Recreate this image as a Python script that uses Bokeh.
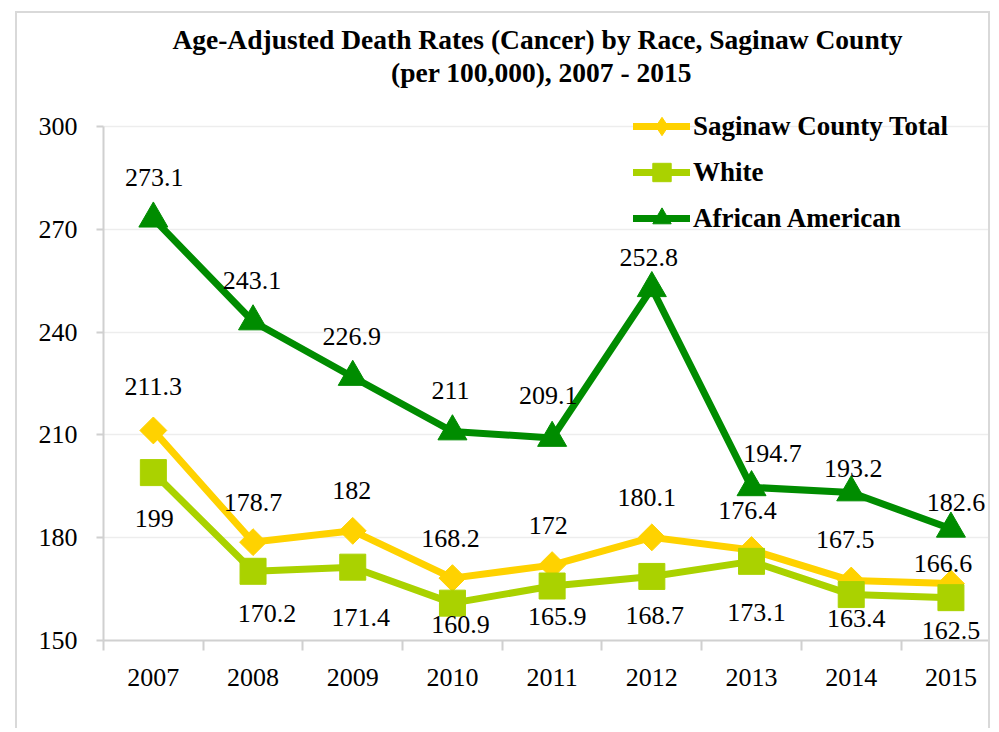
from bokeh.plotting import figure
from bokeh.models import (Range1d, FixedTicker, Legend, LegendItem, Label,
                          ColumnDataSource)
from bokeh.core.properties import value
from bokeh.embed import file_html
from bokeh.resources import INLINE
import math

# ---------------- data ----------------
years = ["2007", "2008", "2009", "2010", "2011", "2012", "2013", "2014", "2015"]
total = [211.3, 178.7, 182.0, 168.2, 172.0, 180.1, 176.4, 167.5, 166.6]
white = [199.0, 170.2, 171.4, 160.9, 165.9, 168.7, 173.1, 163.4, 162.5]
african_american = [273.1, 243.1, 226.9, 211.0, 209.1, 252.8, 194.7, 193.2, 182.6]
total_labels = ["211.3", "178.7", "182", "168.2", "172", "180.1", "176.4", "167.5", "166.6"]
white_labels = ["199", "170.2", "171.4", "160.9", "165.9", "168.7", "173.1", "163.4", "162.5"]
aa_labels = ["273.1", "243.1", "226.9", "211", "209.1", "252.8", "194.7", "193.2", "182.6"]
y_ticks = [150, 180, 210, 240, 270, 300]
title_lines = ["Age-Adjusted Death Rates (Cancer) by Race, Saginaw County",
               "(per 100,000), 2007 - 2015"]

# data-label offsets in pixels (dx right, dy down)
total_dx = [0, 0, -1, -2, -4, -5, -4, -6, -8]
total_dy = [-44, -40, -40, -40, -40, -40, -40, -41, -20]
white_dx = [1, 14, 8, 8, 5, 3, 5, 5, 0]
white_dy = [46, 42, 50, 21, 30, 39, 51, 24, 33]
aa_dx = [1, -1, -1, -2, -4, -3, 21, 2, 5]
aa_dy = [-41, -41, -40, -41, -42, -31, -34, -24, -26]

C_TOTAL = "#FFD200"
C_WHITE = "#AAD200"
C_AA = "#008C00"
SERIF = "Liberation Serif"
GRAY = "#D0D0D0"

xs = list(range(len(years)))

p = figure(width=975, height=717, output_backend="svg", toolbar_location=None,
           title=None,
           x_range=Range1d(-0.5, 8.417), y_range=Range1d(150, 332.98),
           min_border_left=86, min_border_right=0, min_border_top=0,
           min_border_bottom=90)
p.styles = {"margin-left": "15px", "margin-top": "11px",
            "border-left": "2px solid #D9D9D9",
            "border-top": "2px solid #D9D9D9",
            "border-right": "2px solid #D9D9D9"}
p.outline_line_color = None
p.background_fill_color = "white"
p.border_fill_color = "white"

# grid
p.xgrid.grid_line_color = None
p.ygrid.grid_line_color = "#EDEDED"
p.ygrid.grid_line_width = 1.5
p.ygrid.ticker = FixedTicker(ticks=y_ticks)

# y axis
ya = p.yaxis[0]
ya.ticker = FixedTicker(ticks=y_ticks)
ya.bounds = (150, 300)
ya.axis_line_color = GRAY
ya.axis_line_width = 2
ya.major_tick_line_color = GRAY
ya.major_tick_line_width = 2
ya.major_tick_out = 7
ya.major_tick_in = 0
ya.minor_tick_line_color = None
ya.major_label_standoff = 19
ya.major_label_text_font = SERIF
ya.major_label_text_font_size = "26px"
ya.major_label_text_color = "black"

# x axis
xa = p.xaxis[0]
xa.ticker = FixedTicker(ticks=xs, minor_ticks=[i - 0.5 for i in xs])
xa.major_label_overrides = {i: y for i, y in zip(xs, years)}
xa.axis_line_color = GRAY
xa.axis_line_width = 2
xa.major_tick_line_color = None
xa.major_tick_out = 0
xa.major_tick_in = 0
xa.minor_tick_line_color = GRAY
xa.minor_tick_line_width = 2
xa.minor_tick_out = 10
xa.minor_tick_in = 0
xa.major_label_standoff = 18
xa.major_label_text_font = SERIF
xa.major_label_text_font_size = "26px"
xa.major_label_text_color = "black"

# series
def series(vals, color, marker, size, angle=0.0, legend_marker=None):
    src = ColumnDataSource(dict(x=xs, y=vals))
    ln = p.line("x", "y", source=src, line_color=color, line_width=7,
                line_join="round", line_cap="round")
    leg = None
    if legend_marker is not None:
        # smaller marker hidden under the main one; its swatch is used in the legend
        leg = p.scatter("x", "y", source=src, marker=legend_marker, size=size,
                        fill_color=color, line_color=color, line_width=1)
    mk = p.scatter("x", "y", source=src, marker=marker, size=size, angle=angle,
                   fill_color=color, line_color=color, line_width=1)
    return ln, (leg if leg is not None else mk)

t_ln, t_mk = series(total, C_TOTAL, "square", 19, math.pi / 4, legend_marker="diamond")
w_ln, w_mk = series(white, C_WHITE, "square", 26)
a_ln, a_mk = series(african_american, C_AA, "triangle", 29)

def labels(vals, texts, dx, dy):
    src = ColumnDataSource(dict(x=xs, y=vals, t=texts, dx=dx, dy=dy))
    p.text("x", "y", text="t", source=src, x_offset="dx", y_offset="dy",
           text_align="center", text_baseline="middle",
           text_font=value(SERIF), text_font_size="26px", text_color="black")

labels(total, total_labels, total_dx, total_dy)
labels(white, white_labels, white_dx, white_dy)
labels(african_american, aa_labels, aa_dx, aa_dy)

# legend
legend = Legend(items=[
    LegendItem(label="Saginaw County Total", renderers=[t_ln, t_mk]),
    LegendItem(label="White", renderers=[w_ln, w_mk]),
    LegendItem(label="African American", renderers=[a_ln, a_mk]),
], location=(530, 399), orientation="vertical")
legend.glyph_width = 57
legend.glyph_height = 46
legend.label_height = 46
legend.spacing = 0
legend.padding = 0
legend.margin = 0
legend.label_standoff = 3
legend.background_fill_alpha = 0
legend.border_line_alpha = 0
legend.label_text_font = SERIF
legend.label_text_font_style = "bold"
legend.label_text_font_size = "27px"
legend.label_text_color = "black"
p.add_layout(legend)

# title, two centred lines (screen units, relative to the plot frame)
for txt, tx, ty in zip(title_lines, [434, 438], [601, 568]):
    p.add_layout(Label(text=txt, x=tx, y=ty, x_units="screen", y_units="screen",
                       text_align="center", text_baseline="middle",
                       text_font=SERIF, text_font_style="bold",
                       text_font_size="27.5px", text_color="black"))

open("out.html", "w").write(file_html(p, INLINE))
